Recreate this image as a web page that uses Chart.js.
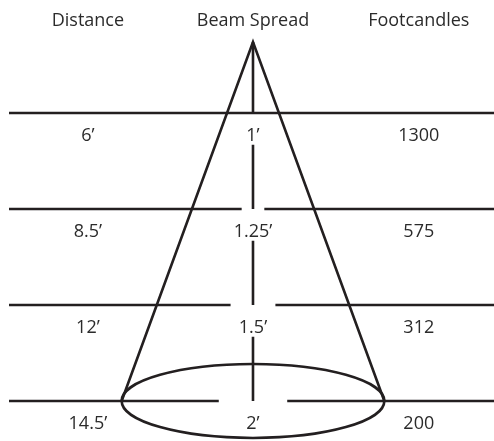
<!DOCTYPE html>
<html>
<head>
<meta charset="utf-8">
<script src="https://cdn.jsdelivr.net/npm/chart.js@4"></script>
<style>
  html, body { margin: 0; padding: 0; background: #fff; }
  canvas { display: block; }
</style>
</head>
<body>
<canvas id="beamChart" width="494" height="441"></canvas>
<script>
// data
const headers = ["Distance", "Beam Spread", "Footcandles"];
const distances = ["6’", "8.5’", "12’", "14.5’"];
const beamSpread = ["1’", "1.25’", "1.5’", "2’"];
const footcandles = [1300, 575, 312, 200];

// layout (scale units: x around the cone axis, y = row number)
const ink = "#231f20";
const lineStart = -1.0124;
const apexY = 0.26;
const coneHalf = 0.545;
const rowGaps = [0, 0.047, 0.093, 0.142];
const colX = [-0.685, 0, 0.688];
const ellipseDepth = 0.385;

const rows = distances.map((d, i) => i + 1);
const lastRow = rows[rows.length - 1];

function seg(x1, y1, x2, y2) {
  return {
    data: [{ x: x1, y: y1 }, { x: x2, y: y2 }],
    showLine: true,
    borderColor: ink,
    borderWidth: 2.6,
    pointRadius: 0,
    borderCapStyle: "butt"
  };
}

const datasets = [];

// 🔹 row lines, broken in the middle for the spread label
rows.forEach((r, i) => {
  if (rowGaps[i] === 0) {
    datasets.push(seg(lineStart, r, 1, r));
  } else {
    datasets.push(seg(lineStart, r, -rowGaps[i], r));
    datasets.push(seg(rowGaps[i], r, 1, r));
  }
});

// 🔹 cone sides
datasets.push({
  data: [{ x: -coneHalf, y: lastRow }, { x: 0, y: apexY }, { x: coneHalf, y: lastRow }],
  showLine: true,
  borderColor: ink,
  borderWidth: 2.6,
  pointRadius: 0,
  borderJoinStyle: "miter"
});

// 🔹 centre axis, broken under each label
datasets.push(seg(0, apexY, 0, rows[0]));
for (let i = 0; i < rows.length - 1; i++) {
  datasets.push(seg(0, rows[i] + 0.33, 0, rows[i + 1]));
}

const sheetPlugin = {
  id: "sheet",
  afterDatasetsDraw(chart) {
    const ctx = chart.ctx;
    const xs = chart.scales.x, ys = chart.scales.y;
    ctx.save();

    // light pool ellipse
    const cx = xs.getPixelForValue(0);
    const cy = ys.getPixelForValue(lastRow);
    const rx = xs.getPixelForValue(coneHalf) - cx;
    const ry = ys.getPixelForValue(lastRow + ellipseDepth) - cy;
    ctx.beginPath();
    ctx.ellipse(cx, cy, rx, ry, 0, 0, Math.PI * 2);
    ctx.lineWidth = 2.6;
    ctx.strokeStyle = ink;
    ctx.stroke();

    // text
    ctx.fillStyle = "#2b2b2b";
    ctx.textAlign = "center";
    ctx.textBaseline = "middle";
    ctx.font = "18px 'Open Sans'";
    headers.forEach((h, i) => {
      ctx.fillText(h, xs.getPixelForValue(colX[i]), ys.getPixelForValue(0.045));
    });
    rows.forEach((r, i) => {
      const y = ys.getPixelForValue(r + 0.235);
      ctx.fillText(distances[i], xs.getPixelForValue(colX[0]), y);
      ctx.fillText(beamSpread[i], xs.getPixelForValue(colX[1]), y);
      ctx.fillText(String(footcandles[i]), xs.getPixelForValue(colX[2]), y);
    });
    ctx.restore();
  }
};

new Chart(document.getElementById("beamChart"), {
  type: "scatter",
  data: { datasets },
  options: {
    responsive: false,
    animation: false,
    layout: { padding: { left: 9, right: 0, top: 0, bottom: 0 } },
    plugins: { legend: { display: false }, tooltip: { enabled: false } },
    scales: {
      x: { type: "linear", min: lineStart, max: 1, display: false },
      y: { type: "linear", min: -0.177, max: 4.417, reverse: true, display: false }
    }
  },
  plugins: [sheetPlugin]
});
</script>
</body>
</html>
